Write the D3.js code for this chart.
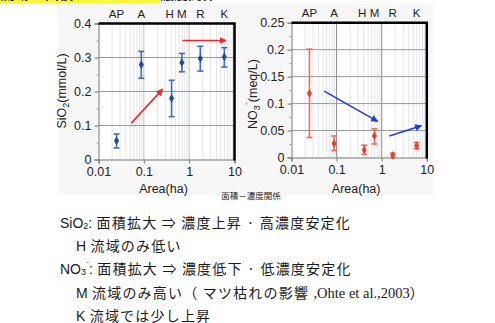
<!DOCTYPE html>
<meta charset="utf-8">
<style>
body { margin: 0; background: #fff; }
svg { display: block; }
.tick text { font-family: "Liberation Sans", Arial, sans-serif; }
</style>
<body>
<script src="https://cdn.jsdelivr.net/npm/d3@7"></script>
<script>

// sites and catchment area (ha)
var sites = ["AP", "A", "H", "M", "R", "K"];
var area = [0.025, 0.088, 0.41, 0.69, 1.76, 5.96];

// SiO2 (mmol/L): mean, lower, upper
var sio2 = [0.055, 0.279, 0.180, 0.285, 0.297, 0.302];
var sio2Lo = [0.034, 0.239, 0.126, 0.258, 0.260, 0.272];
var sio2Hi = [0.075, 0.318, 0.233, 0.312, 0.333, 0.329];

// NO3- (meq/L): mean, lower, upper
var no3 = [0.119, 0.026, 0.014, 0.040, 0.004, 0.022];
var no3Lo = [0.037, 0.013, 0.006, 0.025, 0.000, 0.016];
var no3Hi = [0.201, 0.040, 0.023, 0.053, 0.008, 0.028];

var xTicks = [0.01, 0.1, 1, 10];
var sio2Ticks = [0, 0.1, 0.2, 0.3, 0.4];
var no3Ticks = [0, 0.05, 0.1, 0.15, 0.2, 0.25];

// trend arrows [x0, y0, x1, y1] in data units
var sio2Arrows = [[0.053, 0.107, 0.26, 0.207], [0.71, 0.35, 6.5, 0.35]];
var no3Arrows = [[0.053, 0.123, 0.81, 0.067], [1.48, 0.040, 7.6, 0.059]];

// note lines: [text, style]
var notes = [
  {x: 60, y: 228, parts: [["SiO", "lat"], ["2", "sub"], [":", "lat"], [" 面積拡大 ⇒ 濃度上昇 · 高濃度安定化", ""]]},
  {x: 76, y: 251, parts: [["H", "lat"], [" 流域のみ低い", ""]]},
  {x: 60, y: 274, parts: [["NO", "lat"], ["3", "sub"], ["⁻", "sup"], [":", "lat"], [" 面積拡大 ⇒ 濃度低下 · 低濃度安定化", ""]]},
  {x: 76, y: 298, parts: [["M", "lat"], [" 流域のみ高い（ マツ枯れの影響 ", ""], [",Ohte et al.,2003", "serif"], ["）", ""]]},
  {x: 76, y: 320.5, parts: [["K", "lat"], [" 流域では少し上昇", ""]]}
];

// cut-off slide title pieces at the top edge
var titleBits = [{x: 0, t: "流域"}, {x: 45, t: "面積"}, {x: 160, t: "濃度関係"}];

var W = 495, H = 323;
var sans = "'Liberation Sans', Arial, 'Noto Sans CJK JP', sans-serif";
var cjk = "'Noto Sans CJK JP', sans-serif";

var svg = d3.select("body").append("svg")
    .attr("width", W)
    .attr("height", H);

svg.append("rect").attr("width", W).attr("height", H).attr("fill", "#fff");

svg.append("rect").attr("x", 0).attr("y", 0).attr("width", 160).attr("height", 3.5).attr("fill", "#f6f63a");
svg.selectAll(".ttl").data(titleBits).enter().append("text")
    .attr("x", function(d) { return d.x; }).attr("y", -1.5)
    .style("font-family", cjk).style("font-size", "14px").style("font-weight", "bold")
    .attr("fill", "#222")
    .text(function(d) { return d.t; });

// light figure panel
svg.append("rect").attr("x", 58).attr("y", 4).attr("width", 375).attr("height", 191).attr("fill", "#f7f7f7");

var defs = svg.append("defs");
[["arRed", "#f2262b"], ["arBlue", "#1c3cf0"]].forEach(function(a) {
  defs.append("marker")
      .attr("id", a[0])
      .attr("viewBox", "0 0 10 10")
      .attr("refX", 9).attr("refY", 5)
      .attr("markerWidth", 4.5).attr("markerHeight", 4.5)
      .attr("orient", "auto")
    .append("path")
      .attr("d", "M0,0L10,5L0,10z")
      .attr("fill", a[1]);
});

drawPanel({
  xr: [98.5, 234.5], yr: [159.5, 23.5], dom: [0, 0.4], ticks: sio2Ticks, minor: 0.05,
  mean: sio2, lo: sio2Lo, hi: sio2Hi,
  barColor: "#3f6cbc", dotColor: "#1f4b9c",
  majorGrid: "#c4c4c4",
  arrows: sio2Arrows, arrowColor: "#f2262b", marker: "arRed",
  fmt: function(d) { return d === 0 ? "0" : d3.format(".1f")(d); },
  ylab: {x: 66, y: 91, parts: [["SiO", ""], ["2", "sub"], ["(mmol/L)", ""]]}
});

drawPanel({
  xr: [291.5, 426.8], yr: [157.5, 22.7], dom: [0, 0.25], ticks: no3Ticks, minor: 0.025,
  mean: no3, lo: no3Lo, hi: no3Hi,
  barColor: "#f4695a", dotColor: "#e8402c",
  majorGrid: "#8a8a8a",
  arrows: no3Arrows, arrowColor: "#1c3cf0", marker: "arBlue",
  fmt: function(d) { return d === 0 ? "0" : String(d); },
  ylab: {x: 257, y: 94, parts: [["NO", ""], ["3", "sub"], ["⁻", "sup"], ["(meq/L)", ""]]}
});

// caption
svg.append("text")
    .attr("x", 251).attr("y", 199)
    .attr("text-anchor", "middle")
    .style("font-family", cjk).style("font-size", "8.5px")
    .attr("fill", "#222")
    .text("面積－濃度関係");

// notes below the figure
notes.forEach(function(n) {
  var t = svg.append("text")
      .attr("x", n.x).attr("y", n.y)
      .style("font-family", cjk).style("font-size", "14px")
      .attr("fill", "#1a1a1a");
  n.parts.forEach(function(p) {
    var s = t.append("tspan").text(p[0]).attr("y", n.y);
    if (p[1] === "lat") s.style("font-family", sans);
    if (p[1] === "sub") s.style("font-family", sans).style("font-size", "9px").attr("y", n.y + 1);
    if (p[1] === "sup") s.style("font-family", sans).style("font-size", "9px").attr("y", n.y - 6);
    if (p[1] === "serif") s.style("font-family", "'Liberation Serif', serif").style("font-size", "14.5px");
    if (p[1] === "") s.style("letter-spacing", "1.2px");
  });
});

function drawPanel(c) {
  var x = d3.scaleLog().domain([0.01, 10]).range(c.xr);
  var y = d3.scaleLinear().domain(c.dom).range(c.yr);
  var g = svg.append("g");

  g.append("rect")
      .attr("x", c.xr[0]).attr("y", c.yr[1])
      .attr("width", c.xr[1] - c.xr[0]).attr("height", c.yr[0] - c.yr[1])
      .attr("fill", "#fff");

  // minor log grid
  var minors = [];
  [0.01, 0.1, 1].forEach(function(d) {
    for (var k = 2; k <= 9; k++) minors.push(d * k);
  });
  g.selectAll(".vminor").data(minors).enter().append("line")
      .attr("x1", function(d) { return x(d); }).attr("x2", function(d) { return x(d); })
      .attr("y1", c.yr[0]).attr("y2", c.yr[1])
      .attr("stroke", "#dde0e6").attr("stroke-width", 0.8);

  g.selectAll(".vmajor").data([0.1, 1]).enter().append("line")
      .attr("x1", function(d) { return x(d); }).attr("x2", function(d) { return x(d); })
      .attr("y1", c.yr[0]).attr("y2", c.yr[1])
      .attr("stroke", c.majorGrid).attr("stroke-width", 1);

  g.selectAll(".hgrid").data(c.ticks.slice(1, -1)).enter().append("line")
      .attr("x1", c.xr[0]).attr("x2", c.xr[1])
      .attr("y1", function(d) { return y(d); }).attr("y2", function(d) { return y(d); })
      .attr("stroke", "#9a9a9a").attr("stroke-width", 1);

  // axes
  var yAx = g.append("g")
      .attr("transform", "translate(" + c.xr[0] + ",0)")
      .call(d3.axisLeft(y).tickValues(c.ticks).tickFormat(c.fmt).tickSize(4).tickPadding(3));
  yAx.select(".domain").attr("stroke", "#777");
  yAx.selectAll(".tick line").attr("stroke", "#777");
  yAx.selectAll("text").style("font-size", "12.5px").attr("fill", "#222");

  var minorY = d3.range(c.dom[0], c.dom[1] + 1e-9, c.minor);
  g.append("g")
      .attr("transform", "translate(" + c.xr[0] + ",0)")
      .call(d3.axisLeft(y).tickValues(minorY).tickFormat("").tickSize(2))
      .call(function(s) { s.select(".domain").remove(); s.selectAll("line").attr("stroke", "#999"); });

  var xAx = g.append("g")
      .attr("transform", "translate(0," + c.yr[0] + ")")
      .call(d3.axisBottom(x).tickValues(xTicks).tickFormat(d3.format("")).tickSize(4).tickPadding(4));
  xAx.select(".domain").attr("stroke", "#777");
  xAx.selectAll(".tick line").attr("stroke", "#777");
  xAx.selectAll("text").style("font-size", "12.5px").attr("fill", "#222");

  // heavy top/right frame
  g.append("path")
      .attr("d", "M" + c.xr[0] + "," + c.yr[1] + "H" + c.xr[1] + "V" + (c.yr[0] + 1))
      .attr("fill", "none").attr("stroke", "#000").attr("stroke-width", 2.5);

  // site labels along the top
  g.selectAll(".site").data(sites).enter().append("text")
      .attr("x", function(d, i) { return x(area[i]) + (d === "H" ? -2 : 0); })
      .attr("y", c.yr[1] - 6)
      .attr("text-anchor", "middle")
      .style("font-family", sans).style("font-size", "11.5px")
      .attr("fill", "#222")
      .text(function(d) { return d; });

  // error bars
  var eb = g.selectAll(".eb").data(sites).enter().append("g")
      .attr("stroke", c.barColor).attr("stroke-width", 1.6);
  eb.append("line")
      .attr("x1", function(d, i) { return x(area[i]); }).attr("x2", function(d, i) { return x(area[i]); })
      .attr("y1", function(d, i) { return y(c.lo[i]); }).attr("y2", function(d, i) { return y(c.hi[i]); });
  eb.append("line")
      .attr("x1", function(d, i) { return x(area[i]) - 3; }).attr("x2", function(d, i) { return x(area[i]) + 3; })
      .attr("y1", function(d, i) { return y(c.lo[i]); }).attr("y2", function(d, i) { return y(c.lo[i]); });
  eb.append("line")
      .attr("x1", function(d, i) { return x(area[i]) - 3; }).attr("x2", function(d, i) { return x(area[i]) + 3; })
      .attr("y1", function(d, i) { return y(c.hi[i]); }).attr("y2", function(d, i) { return y(c.hi[i]); });

  g.selectAll(".dot").data(sites).enter().append("path")
      .attr("transform", function(d, i) { return "translate(" + x(area[i]) + "," + y(c.mean[i]) + ")"; })
      .attr("d", d3.symbol().type(d3.symbolDiamond).size(22))
      .attr("fill", c.dotColor);

  // trend arrows
  g.selectAll(".arrow").data(c.arrows).enter().append("line")
      .attr("x1", function(d) { return x(d[0]); }).attr("y1", function(d) { return y(d[1]); })
      .attr("x2", function(d) { return x(d[2]); }).attr("y2", function(d) { return y(d[3]); })
      .attr("stroke", c.arrowColor).attr("stroke-width", 1.6)
      .attr("marker-end", "url(#" + c.marker + ")");

  // axis titles
  g.append("text")
      .attr("x", (c.xr[0] + c.xr[1]) / 2 - 3).attr("y", 193)
      .attr("text-anchor", "middle")
      .style("font-family", sans).style("font-size", "12.5px")
      .attr("fill", "#222")
      .text("Area(ha)");

  var yl = g.append("text")
      .attr("transform", "translate(" + c.ylab.x + "," + c.ylab.y + ") rotate(-90)")
      .attr("text-anchor", "middle")
      .style("font-family", sans).style("font-size", "12.5px")
      .attr("fill", "#222");
  var shift = 0;
  c.ylab.parts.forEach(function(p) {
    var target = p[1] === "sub" ? 3 : p[1] === "sup" ? -5 : 0;
    var s = yl.append("tspan").text(p[0]).attr("dy", target - shift);
    shift = target;
    if (p[1] === "sub" || p[1] === "sup") s.style("font-size", "9px");
  });
}

</script>
</body>
